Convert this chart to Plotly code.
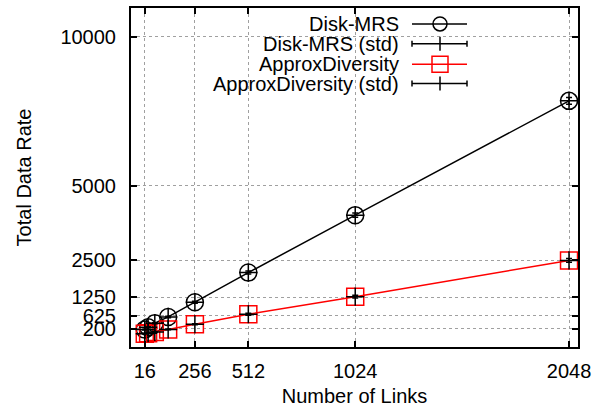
import plotly.graph_objects as go

# ---- data ----
links = [16, 32, 64, 128, 256, 512, 1024, 2048]
disk_mrs = [165, 240, 380, 590, 1085, 2080, 4010, 7850]
disk_mrs_std = [10, 12, 18, 25, 35, 50, 70, 110]
approx_div = [28, 45, 88, 170, 345, 680, 1270, 2490]
approx_div_std = [5, 7, 10, 14, 20, 30, 45, 65]

x_ticks = [16, 256, 512, 1024, 2048]
y_ticks = [200, 625, 1250, 2500, 5000, 10000]

legend_labels = ["Disk-MRS", "Disk-MRS (std)", "ApproxDiversity", "ApproxDiversity (std)"]

W, H = 607, 414
ML, MR, MT, MB = 131, 29, 6, 67
PW, PH = W - ML - MR, H - MT - MB

FONT = "Liberation Sans, Arial, Helvetica, sans-serif"
FS = 20

fig = go.Figure()

fig.add_trace(go.Scatter(
    x=links, y=disk_mrs, mode="lines+markers",
    line=dict(color="black", width=1.5),
    marker=dict(symbol="circle-open", size=17, color="black", line=dict(width=1.5, color="black")),
    showlegend=False))
fig.add_trace(go.Scatter(
    x=links, y=approx_div, mode="lines+markers",
    line=dict(color="#ff0000", width=1.5),
    marker=dict(symbol="square-open", size=17, color="#ff0000", line=dict(width=1.5, color="#ff0000")),
    showlegend=False))
fig.add_trace(go.Scatter(
    x=links, y=disk_mrs, mode="markers",
    marker=dict(symbol="cross-thin", size=13, color="black", line=dict(width=1.5, color="black")),
    error_y=dict(type="data", array=disk_mrs_std, color="black", thickness=1.5, width=3),
    showlegend=False))
fig.add_trace(go.Scatter(
    x=links, y=approx_div, mode="markers",
    marker=dict(symbol="cross-thin", size=13, color="black", line=dict(width=1.5, color="black")),
    error_y=dict(type="data", array=approx_div_std, color="black", thickness=1.5, width=3),
    showlegend=False))

# ---- custom legend (gnuplot style: text right, sample left-to-right) ----
def px(xp):
    return (xp - ML) / PW

def py(yp):
    return (H - MB - yp) / PH

shapes = []
annotations = []
# opaque key background
shapes.append(dict(type="rect", xref="paper", yref="paper",
                   x0=px(143), x1=px(478), y0=py(93), y1=py(MT + 1),
                   fillcolor="white", line=dict(width=0), layer="below"))

rows_y = [22, 42, 62.5, 82]
text_right = 401
s0, s1, sc = 412, 467, 440
colors = ["black", "black", "#ff0000", "black"]
for i, (lab, yy, col) in enumerate(zip(legend_labels, rows_y, colors)):
    annotations.append(dict(xref="paper", yref="paper", x=px(text_right), y=py(yy),
                            xanchor="right", yanchor="middle", showarrow=False,
                            text=lab, font=dict(family=FONT, size=FS, color="black")))
    shapes.append(dict(type="line", xref="paper", yref="paper",
                       x0=px(s0), x1=px(s1), y0=py(yy), y1=py(yy),
                       line=dict(color=col, width=1.5)))
    if i == 0:
        shapes.append(dict(type="circle", xref="paper", yref="paper",
                           xsizemode="pixel", ysizemode="pixel",
                           xanchor=px(sc), yanchor=py(yy),
                           x0=-7, x1=7, y0=-7, y1=7,
                           line=dict(color="black", width=1.5), fillcolor="rgba(0,0,0,0)"))
    elif i == 2:
        shapes.append(dict(type="rect", xref="paper", yref="paper",
                           xsizemode="pixel", ysizemode="pixel",
                           xanchor=px(sc), yanchor=py(yy),
                           x0=-8, x1=8, y0=-8, y1=8,
                           line=dict(color="#ff0000", width=1.5), fillcolor="rgba(0,0,0,0)"))
    else:
        for xe in (s0, s1):
            shapes.append(dict(type="line", xref="paper", yref="paper",
                               x0=px(xe), x1=px(xe), y0=py(yy - 3), y1=py(yy + 3),
                               line=dict(color="black", width=1.5)))
        shapes.append(dict(type="line", xref="paper", yref="paper",
                           x0=px(sc), x1=px(sc), y0=py(yy - 7), y1=py(yy + 7),
                           line=dict(color="black", width=1.5)))

axis_common = dict(
    showline=True, linecolor="black", linewidth=2, mirror="ticks",
    ticks="inside", ticklen=6, tickwidth=1.5, tickcolor="black",
    showgrid=True, gridcolor="#a0a0a0", gridwidth=1, griddash="dot",
    zeroline=False,
    tickfont=dict(family=FONT, size=FS, color="black"),
)

fig.update_layout(
    width=W, height=H,
    margin=dict(l=ML, r=MR, t=MT, b=MB, pad=0),
    paper_bgcolor="white", plot_bgcolor="white",
    shapes=shapes, annotations=annotations,
    xaxis=dict(range=[-50, 2091], tickmode="array", tickvals=x_ticks,
               ticktext=[str(v) for v in x_ticks],
               title=dict(text="Number of Links", font=dict(family=FONT, size=FS, color="black"), standoff=8),
               ticklabelstandoff=5,
               **axis_common),
    yaxis=dict(range=[-420, 10970], tickmode="array", tickvals=y_ticks,
               ticktext=[str(v) for v in y_ticks],
               title=dict(text="Total Data Rate", font=dict(family=FONT, size=FS, color="black"), standoff=23),
               ticklabelstandoff=9,
               **axis_common),
)

fig.write_html("out.html")
